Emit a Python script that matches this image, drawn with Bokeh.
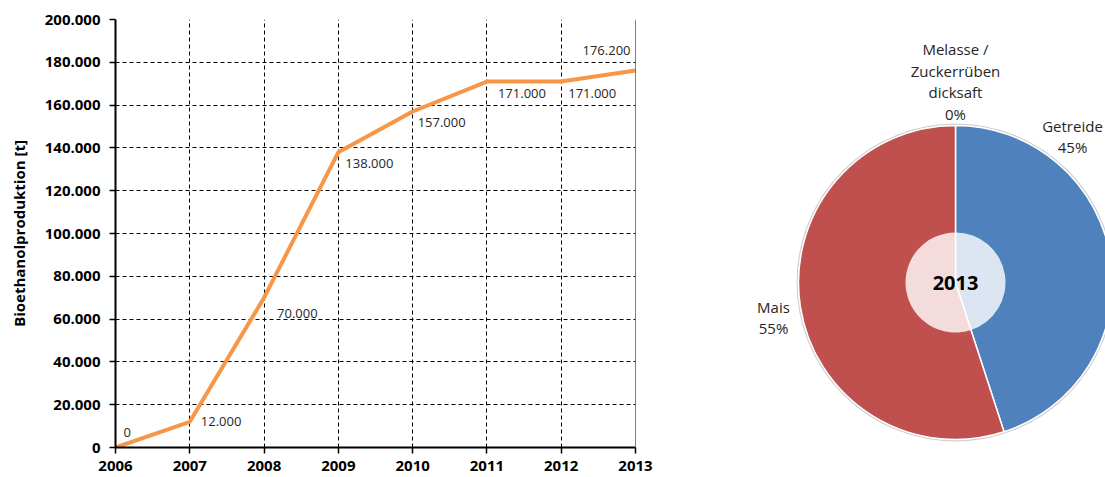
import math
from bokeh.plotting import figure
from bokeh.layouts import row
from bokeh.models import FixedTicker, Range1d, ColumnDataSource, Span
from bokeh.core.properties import value
from bokeh.embed import file_html
from bokeh.resources import INLINE

# ---------------- data ----------------
years = [2006, 2007, 2008, 2009, 2010, 2011, 2012, 2013]
production = [0, 12000, 70000, 138000, 157000, 171000, 171000, 176200]
y_ticks = [0, 20000, 40000, 60000, 80000, 100000, 120000, 140000, 160000, 180000, 200000]
y_tick_labels = ["0", "20.000", "40.000", "60.000", "80.000", "100.000",
                 "120.000", "140.000", "160.000", "180.000", "200.000"]
y_axis_title = "Bioethanolproduktion [t]"

share_names = ["Getreide", "Mais", "Melasse /\nZuckerrüben\ndicksaft"]
share_values = [45, 55, 0]
pie_year = "2013"

# ---------------- style ----------------
FONT = "Open Sans"
TXT = "#262626"
LINE_COL = "#F79646"
slice_colors = ["#4F81BD", "#C0504D", "#9BBB59"]
TOP, BOTTOM = 19, 30

def de_fmt(v):
    return f"{v:,}".replace(",", ".")

# label offsets (pixels) per point, style only
lbl_dx = [8, 11, 13, 7, 5, 11, 7, -5]
lbl_dy = [-15, 0, 16, 11, 11, 12, 12, -20]
lbl_align = ["left"] * 7 + ["right"]

# ---------------- line chart ----------------
p = figure(width=680, height=477, title=None,
           x_range=Range1d(2006, 2013), y_range=Range1d(0, 200000),
           output_backend="svg", toolbar_location=None,
           min_border_left=115, min_border_right=45,
           min_border_top=TOP, min_border_bottom=BOTTOM)
p.background_fill_color = "white"
p.outline_line_color = None

for ax in (p.xaxis[0], p.yaxis[0]):
    ax.axis_line_color = "black"
    ax.axis_line_width = 2
    ax.major_tick_line_color = "black"
    ax.major_tick_line_width = 1.5
    ax.major_tick_out = 6
    ax.major_tick_in = 0
    ax.minor_tick_line_color = None
    ax.major_label_text_font = FONT
    ax.major_label_text_font_style = "bold"
    ax.major_label_text_font_size = "15px"
    ax.major_label_text_color = "black"

p.xaxis.ticker = FixedTicker(ticks=years)
p.xaxis.major_label_overrides = {y: str(y) for y in years}
p.xaxis.major_label_standoff = 7
p.yaxis.ticker = FixedTicker(ticks=y_ticks)
p.yaxis.major_label_overrides = {t: l for t, l in zip(y_ticks, y_tick_labels)}
p.yaxis.major_label_standoff = 9
p.yaxis.axis_label = y_axis_title
p.yaxis.axis_label_text_font = FONT
p.yaxis.axis_label_text_font_style = "bold"
p.yaxis.axis_label_text_font_size = "15px"
p.yaxis.axis_label_text_color = "black"
p.yaxis.axis_label_standoff = 13

for g in (p.xgrid[0], p.ygrid[0]):
    g.grid_line_color = "black"
    g.grid_line_dash = "4 3"
    g.grid_line_width = 1
p.xgrid.ticker = FixedTicker(ticks=years)
p.ygrid.ticker = FixedTicker(ticks=y_ticks)

p.add_layout(Span(location=2013, dimension="height", line_color="black", line_width=1))

src = ColumnDataSource(dict(x=years, y=production,
                            t=[de_fmt(v) for v in production],
                            dx=lbl_dx, dy=lbl_dy, al=lbl_align))
p.line("x", "y", source=src, line_color=LINE_COL, line_width=4, line_join="round")
p.text("x", "y", text="t", source=src, x_offset="dx", y_offset="dy",
       text_align="al", text_baseline="middle",
       text_font=value(FONT), text_font_size="13px", text_color=TXT)

# ---------------- pie chart ----------------
PW, PH = 425, 477
pie = figure(width=PW, height=PH, title=None,
             x_range=Range1d(0, PW), y_range=Range1d(BOTTOM, PH - TOP),
             x_axis_location=None, y_axis_location=None,
             output_backend="svg", toolbar_location=None,
             min_border_left=0, min_border_right=0,
             min_border_top=TOP, min_border_bottom=BOTTOM)
pie.grid.visible = False
pie.outline_line_color = None
pie.background_fill_color = "white"
pie.border_fill_color = "white"

cx, cy, R, r_in = 275, 195, 157, 50
total = sum(share_values)
starts, ends = [], []
acc = 0
for v in share_values:
    a0 = math.pi / 2 - 2 * math.pi * acc / total
    acc += v
    a1 = math.pi / 2 - 2 * math.pi * acc / total
    starts.append(a0)
    ends.append(a1)

nz = [i for i, v in enumerate(share_values) if v > 0]
wsrc = ColumnDataSource(dict(x=[cx] * len(nz), y=[cy] * len(nz),
                             s=[starts[i] for i in nz], e=[ends[i] for i in nz],
                             c=[slice_colors[i] for i in nz]))
pie.circle(x=[cx], y=[cy], radius=R + 1.2, fill_color=None,
           line_color="#D0D0D0", line_width=1.5)
pie.wedge("x", "y", radius=R, start_angle="s", end_angle="e", direction="clock",
          fill_color="c", line_color="white", line_width=1.5, source=wsrc)
pie.wedge("x", "y", radius=r_in, start_angle="s", end_angle="e", direction="clock",
          fill_color="white", fill_alpha=0.8, line_color=None, source=wsrc)
pie.text(x=[cx], y=[cy], text=[pie_year], text_align="center", text_baseline="middle",
         text_font=value(FONT), text_font_style="bold", text_font_size="20px",
         text_color="black")

# pie label anchors (pixels from centre) and line spacing, style only
lab_off = [(117, 146), (-182, -35), (0, 201)]
LINE_GAP = 21.7
lx, ly, lt = [], [], []
for (n, v), (ox, oy) in zip(zip(share_names, share_values), lab_off):
    lines = n.split("\n") + [f"{v}%"]
    k = len(lines)
    for i, ln in enumerate(lines):
        lx.append(cx + ox)
        ly.append(cy + oy - (i - (k - 1) / 2) * LINE_GAP)
        lt.append(ln)
pie.text(x=lx, y=ly, text=lt, text_align="center", text_baseline="middle",
         text_font=value(FONT), text_font_size="15px", text_color=TXT)

layout = row(p, pie)
open("out.html", "w").write(file_html(layout, INLINE))
